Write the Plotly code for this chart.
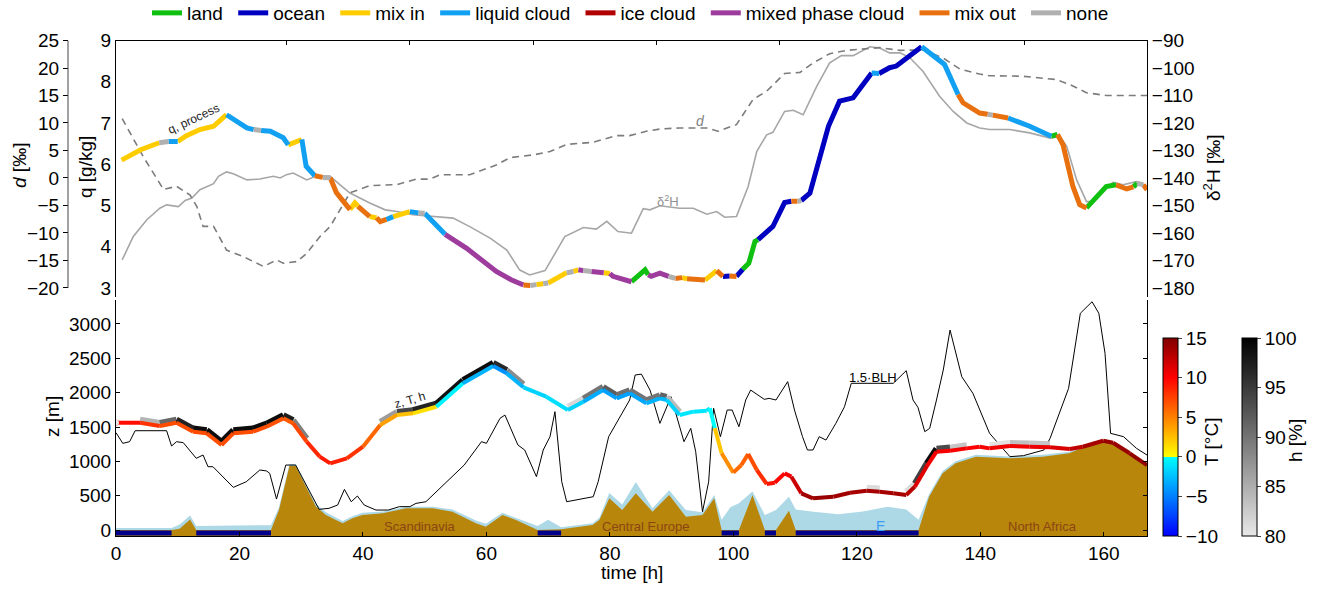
import plotly.graph_objects as go

W, H = 1322, 589

# ------------------------------------------------------------------ top panel data
t_q = [0.9, 4.0, 7.0, 8.5, 10.0, 11.4, 13.6, 15.8, 17.9, 21.2,
       22.3, 23.5, 25.0, 27.1, 27.9, 30.1, 30.8, 32.2, 33.5, 34.7,
       35.7, 37.9, 38.7, 39.2, 41.1, 42.2, 42.8, 43.8, 44.9, 47.6,
       49.0, 50.0, 52.5, 53.3, 56.8, 61.6, 64.0, 66.0, 67.1, 68.1,
       69.2, 70.0, 71.5, 73.0, 74.1, 74.9, 75.7, 77.0, 79.0, 80.0,
       80.5, 83.5, 85.7, 86.2, 86.7, 88.1, 89.5, 90.6, 91.7, 92.5,
       95.4, 97.3, 98.3, 99.4, 100.5, 101.5, 102.5, 103.5, 104.0, 106.4,
       108.3, 109.4, 110.4, 111.0, 112.4, 115.4, 117.2, 119.4, 122.4, 123.6,
       125.3, 126.4, 127.8, 130.5, 131.5, 134.2, 136.4, 137.2, 139.9, 141.2,
       142.0, 144.5, 148.0, 151.5, 152.5, 153.4, 155.0, 156.1, 157.2, 158.8,
       160.4, 162.0, 163.7, 164.8, 165.4, 166.4, 167.0]
q_val = [6.10, 6.35, 6.52, 6.55, 6.55, 6.69, 6.84, 6.92, 7.20, 6.88,
         6.84, 6.82, 6.80, 6.64, 6.47, 6.60, 5.95, 5.72, 5.68, 5.67,
         5.31, 4.90, 5.06, 4.98, 4.73, 4.70, 4.61, 4.66, 4.73, 4.85,
         4.82, 4.81, 4.45, 4.30, 3.96, 3.40, 3.20, 3.07, 3.06, 3.08,
         3.10, 3.12, 3.25, 3.37, 3.40, 3.44, 3.42, 3.40, 3.37, 3.35,
         3.28, 3.15, 3.44, 3.32, 3.28, 3.36, 3.28, 3.23, 3.25, 3.22,
         3.19, 3.42, 3.28, 3.29, 3.28, 3.45, 3.60, 4.13, 4.17, 4.49,
         5.07, 5.10, 5.10, 5.12, 5.30, 6.92, 7.53, 7.61, 8.21, 8.20,
         8.34, 8.38, 8.54, 8.85, 8.74, 8.42, 7.69, 7.49, 7.24, 7.21,
         7.19, 7.12, 6.92, 6.68, 6.72, 6.47, 5.46, 5.02, 4.94, 5.18,
         5.46, 5.50, 5.40, 5.45, 5.54, 5.50, 5.38]
# process of the segment that starts at each point
q_proc = ['mix in', 'mix in', 'none', 'liquid cloud', 'mix in', 'mix in', 'mix in', 'mix in', 'liquid cloud', 'liquid cloud',
          'none', 'liquid cloud', 'liquid cloud', 'liquid cloud', 'mix in', 'liquid cloud', 'liquid cloud', 'mix out', 'none', 'mix out',
          'mix out', 'mix in', 'mix in', 'mix out', 'mix in', 'mix out', 'mix out', 'liquid cloud', 'mix in', 'liquid cloud',
          'none', 'liquid cloud', 'liquid cloud', 'mixed phase cloud', 'mixed phase cloud', 'mixed phase cloud', 'mixed phase cloud', 'mix out', 'none', 'mix in',
          'none', 'mix in', 'mix in', 'none', 'mix in', 'mixed phase cloud', 'none', 'mixed phase cloud', 'mix in', 'mixed phase cloud',
          'mixed phase cloud', 'land', 'land', 'mixed phase cloud', 'mixed phase cloud', 'mixed phase cloud', 'none', 'mix out', 'mix in', 'mix out',
          'mix in', 'mix out', 'ocean', 'mix out', 'ocean', 'land', 'land', 'land', 'ocean', 'ocean',
          'ocean', 'mix out', 'none', 'ocean', 'ocean', 'ocean', 'ocean', 'ocean', 'liquid cloud', 'ocean',
          'ocean', 'ocean', 'ocean', 'liquid cloud', 'liquid cloud', 'liquid cloud', 'mix out', 'mix out', 'mix out', 'none',
          'mix out', 'liquid cloud', 'liquid cloud', 'land', 'mix out', 'mix out', 'mix out', 'mix out', 'land', 'land',
          'land', 'mix out', 'mix out', 'land', 'none', 'mix out', 'mix out']

t_d = [1.0, 4.4, 7.7, 9.8, 12.0, 13.1, 14.1, 15.8, 17.9, 20.6,
       23.9, 26.0, 27.1, 29.3, 30.9, 33.0, 34.7, 36.3, 37.9, 41.1,
       45.5, 48.7, 50.9, 52.5, 57.3, 61.7, 63.8, 67.6, 70.3, 73.0,
       77.3, 81.1, 83.2, 85.9, 88.1, 91.3, 95.7, 97.5, 100.5, 103.2,
       105.4, 108.3, 110.8, 112.9, 115.6, 118.3, 121.0, 123.7, 127.0, 130.7,
       134.0, 136.7, 139.9, 141.5, 146.9, 152.3, 154.5, 157.2, 160.4, 167.0]
d_val = [10.8, 3.9, -2.1, -1.5, -3.1, -5.2, -8.8, -8.8, -13.1, -14.3,
         -16.1, -14.9, -15.5, -15.2, -13.7, -10.7, -8.8, -5.8, -2.7, -1.4,
         -1.2, -0.2, -0.2, 0.6, 0.6, 2.4, 3.7, 4.2, 4.8, 6.1,
         6.5, 7.7, 7.7, 8.5, 8.9, 9.1, 9.1, 8.5, 9.7, 14.3,
         15.8, 19.0, 19.2, 20.9, 22.6, 23.2, 23.5, 23.7, 23.2, 23.3,
         21.8, 19.8, 18.9, 18.6, 18.5, 17.9, 17.0, 15.5, 15.0, 15.0]

t_h = [1.0, 2.8, 5.0, 7.1, 8.2, 10.1, 11.2, 12.3, 13.6, 15.8,
       16.6, 17.9, 19.0, 21.2, 23.3, 25.5, 26.6, 27.6, 28.7, 30.9,
       32.5, 34.7, 36.3, 37.9, 39.5, 41.1, 43.6, 45.5, 48.1, 50.9,
       54.6, 57.3, 60.6, 63.3, 65.4, 67.0, 69.5, 72.7, 75.7, 77.8,
       79.5, 81.3, 83.5, 85.4, 86.5, 88.1, 91.3, 93.5, 95.7, 97.3,
       98.6, 100.5, 102.4, 103.8, 105.4, 106.4, 108.3, 109.7, 111.3, 113.5,
       115.6, 117.5, 119.4, 122.1, 123.7, 125.3, 127.0, 128.6, 130.7, 133.4,
       135.6, 137.8, 139.9, 141.5, 144.8, 148.0, 151.3, 152.9, 154.0, 155.6,
       157.2, 158.3, 159.9, 161.5, 163.1, 165.3, 167.0]
dH_val = [-169.8, -161.3, -155.2, -151.0, -149.8, -150.4, -148.2, -147.3, -144.3, -142.1,
          -139.4, -137.8, -138.5, -140.7, -140.4, -139.4, -140.0, -138.8, -138.2, -140.7,
          -139.2, -139.4, -142.5, -145.5, -147.3, -149.1, -151.6, -152.2, -153.4, -154.0,
          -154.6, -157.7, -161.9, -166.2, -173.5, -175.3, -173.7, -161.3, -158.0, -158.6,
          -155.8, -159.5, -160.1, -151.2, -151.6, -150.1, -151.0, -151.0, -153.2, -152.2,
          -154.3, -154.0, -143.1, -130.3, -124.3, -123.4, -115.8, -115.4, -117.0, -106.7,
          -98.1, -95.5, -95.5, -92.3, -92.7, -94.5, -94.5, -96.3, -101.2, -110.3,
          -115.8, -120.0, -121.8, -122.4, -122.4, -123.6, -125.5, -124.9, -128.5, -140.7,
          -148.6, -148.6, -144.3, -141.6, -142.5, -141.3, -143.1]

top_ticks = [27.6, 47.6, 67.6, 87.6, 107.4, 127.3, 147.2]

# ------------------------------------------------------------------ bottom panel data
t_z = [0.0, 3.9, 7.1, 9.8, 12.5, 14.7, 17.1, 19.0, 22.2, 24.4,
       27.1, 28.7, 30.9, 33.0, 34.7, 37.4, 40.0, 42.8, 45.5, 48.1,
       51.9, 56.2, 61.1, 63.3, 66.0, 69.7, 73.2, 75.7, 78.9, 81.1,
       83.2, 85.9, 88.1, 89.2, 91.3, 93.5, 95.7, 96.2, 97.0, 98.1,
       100.0, 101.3, 102.4, 103.8, 105.4, 106.7, 108.3, 109.4, 111.0, 112.9,
       116.2, 118.9, 121.6, 123.7, 125.9, 128.0, 129.4, 131.3, 132.9, 135.1,
       137.8, 139.9, 141.5, 144.8, 148.0, 151.3, 154.5, 156.6, 159.9, 161.5,
       164.2, 167.0]
z_val = [1562, 1562, 1514, 1562, 1432, 1408, 1238, 1408, 1432, 1504,
         1626, 1553, 1286, 1068, 971, 1044, 1213, 1529, 1674, 1699,
         1795, 2136, 2388, 2281, 2078, 1941, 1747, 1868, 2038, 1917,
         1990, 1845, 1917, 1893, 1674, 1723, 1737, 1772, 1481, 1117,
         835, 946, 1107, 874, 670, 689, 825, 777, 534, 461,
         485, 543, 572, 558, 534, 510, 631, 922, 1140, 1155,
         1189, 1213, 1189, 1223, 1213, 1204, 1179, 1213, 1300, 1271,
         1117, 946]
T_val = [10, 9, 7, 7, 7, 7, 7, 7, 7, 7,
         6.5, 6.5, 8, 9, 9, 8.5, 7.5, 4.5, 3, 2,
         0.5, -1.5, -4.5, -4, -2, -1.5, -1, -2.5, -4, -3.5,
         -4, -3, -3, -2.5, -1, -1, -1, -1, 1, 3.5,
         5.5, 6, 6.5, 7.5, 9, 9.5, 10, 10.5, 13.5, 14,
         14, 13.5, 13.5, 13.5, 13.5, 13.5, 12, 10.5, 10, 10.5,
         10, 10, 10.5, 10.5, 10.5, 11, 12, 13, 14, 14,
         14, 14.5]
h_val = [75, 82, 87, 95, 99, 99, 99, 99, 99, 99,
         99, 96, 82, 76, 70, 70, 72, 81, 92, 96,
         98, 99, 99, 94, 82, 76, 79, 84, 96, 88,
         93, 87, 93, 90, 78, 70, 70, 70, 70, 70,
         70, 70, 70, 70, 70, 70, 70, 70, 70, 70,
         70, 75, 84, 78, 70, 72, 90, 99, 99, 88,
         78, 75, 78, 83, 84, 82, 76, 70, 70, 70,
         70, 70]

t_blh = [0.0, 1.1, 2.2, 3.1, 8.2, 9.0, 9.8, 10.9, 13.0, 14.1,
         14.9, 15.7, 19.0, 21.1, 23.3, 24.4, 24.9, 26.0, 27.5, 29.1,
         32.9, 34.5, 35.9, 37.0, 38.1, 39.1, 40.2, 42.1, 44.1, 45.9,
         47.6, 48.6, 50.2, 53.2, 56.4, 59.2, 60.0, 62.2, 63.0, 65.1,
         66.2, 68.1, 69.2, 70.3, 71.1, 72.2, 73.0, 77.3, 78.1, 79.8,
         82.2, 83.2, 84.1, 85.1, 86.5, 88.1, 89.9, 92.0, 93.1, 93.9,
         95.0, 96.0, 96.8, 97.9, 99.0, 99.8, 100.9, 102.0, 102.8, 105.0,
         105.8, 106.9, 108.8, 109.9, 111.2, 112.0, 112.9, 113.9, 115.0, 116.6,
         118.0, 119.1, 125.9, 128.0, 129.1, 129.9, 131.0, 131.8, 132.9, 134.0,
         135.1, 137.0, 138.8, 141.5, 144.8, 147.0, 150.3, 151.3, 154.3, 156.2,
         158.1, 159.2, 160.2, 161.1, 163.2, 165.3, 167.0]
blh15_val = [1417, 1262, 1286, 1446, 1446, 1223, 1286, 1272, 1044, 1092,
             922, 922, 621, 703, 874, 860, 825, 451, 946, 946,
             301, 316, 364, 592, 412, 495, 364, 291, 291, 340,
             340, 388, 412, 670, 946, 1286, 1262, 1626, 1674, 1238,
             1165, 777, 1165, 1359, 1723, 703, 412, 485, 703, 1359,
             1747, 1893, 2257, 2270, 2038, 1553, 1941, 1286, 1481, 1140,
             267, 703, 1772, 1359, 1747, 1747, 1504, 1893, 2038, 1903,
             1917, 1893, 2160, 1747, 1359, 1165, 1165, 1359, 1310, 1553,
             1795, 2136, 2136, 2320, 1893, 1786, 1432, 1481, 1893, 2330,
             2912, 2232, 1990, 1408, 1068, 1083, 1165, 1335, 2063, 3155,
             3324, 3155, 2573, 1408, 1359, 1189, 1092]

t_b = [0, 5, 9, 10.3, 12, 13, 18, 25.1, 26.4, 28.1,
       29.1, 30.8, 32.4, 34, 36.7, 38.3, 39.9, 43.2, 47, 51.3,
       54.5, 58.3, 59.9, 62.6, 64.8, 68.3, 70, 72.1, 77.2, 78.3,
       79.9, 82, 84.2, 86.9, 89.6, 92.3, 95, 96.9, 98.1, 99.5,
       100.9, 103.1, 105.1, 106.9, 109, 110.1, 113, 117, 121, 125,
       128, 130, 131.7, 133.9, 136, 139.3, 144.7, 150.1, 154.4, 157.6,
       159.8, 161.9, 165.8, 167]
topo_val = [0, 0, 0, 20, 155, 0, 0, 0, 291, 932,
            932, 631, 340, 218, 97, 170, 218, 243, 316, 316,
            267, 97, 49, 218, 146, 0, 0, 10, 73, 146,
            461, 291, 534, 267, 510, 194, 218, 461, 0, 0,
            0, 510, 0, 0, 282, 0, 0, 0, 0, 0,
            0, 0, 485, 825, 971, 1068, 1044, 1068, 1117, 1238,
            1286, 1238, 1019, 950]
blue_val = [30, 25, 30, 80, 210, 60, 60, 70, 330, 960,
            960, 670, 380, 260, 130, 200, 250, 270, 340, 340,
            300, 140, 90, 250, 180, 60, 150, 40, 100, 180,
            540, 370, 700, 316, 580, 290, 260, 510, 150, 330,
            390, 560, 220, 290, 485, 300, 267, 230, 270, 340,
            300, 150, 520, 860, 1000, 1095, 1070, 1095, 1140, 1260,
            1305, 1260, 1040, 970]
ocean_start = [0, 13.0, 68.3, 98.1, 105.1, 110.1]
ocean_end = [9.0, 25.1, 72.1, 100.9, 106.9, 130.0]

region_names = ['Scandinavia', 'Central Europe', 'North Africa']
region_t = [49.2, 85.7, 150.1]

# ------------------------------------------------------------------ styling
FONT = 'Liberation Sans, Arial, sans-serif'
FS = 19
CATS = ['land', 'ocean', 'mix in', 'liquid cloud', 'ice cloud',
        'mixed phase cloud', 'mix out', 'none']
CAT_COLORS = {'land': '#10c010', 'ocean': '#0000c0', 'mix in': '#ffcc00',
              'liquid cloud': '#12a0f2', 'ice cloud': '#b00000',
              'mixed phase cloud': '#9e3c9e', 'mix out': '#e8700e', 'none': '#b0b0b0'}
T_MIN, T_MAX = -10, 15
H_MIN, H_MAX = 80, 100
T_SCALE = [[0.0, '#0000ff'], [0.2, '#0080ff'], [0.4, '#00ffff'], [0.4, '#ffff00'],
           [0.6, '#ff8000'], [0.8, '#ff0000'], [1.0, '#800000']]
H_SCALE = [[0.0, '#e8e8e8'], [1.0, '#000000']]
Z_MIN, Z_MAX = -87, 3349
H_OFFSET = 45


def px_x(px):
    return px / W


def px_y(py):
    return 1 - py / H


def hex2rgb(h):
    h = h.lstrip('#')
    return tuple(int(h[i:i + 2], 16) for i in (0, 2, 4))


def scale_color(scale, f):
    f = min(max(f, 0.0), 1.0)
    for i in range(len(scale) - 1):
        p0, c0 = scale[i]
        p1, c1 = scale[i + 1]
        if p0 <= f <= p1 and p1 > p0:
            a = (f - p0) / (p1 - p0)
            r0, g0, b0 = hex2rgb(c0)
            r1, g1, b1 = hex2rgb(c1)
            return 'rgb(%d,%d,%d)' % (round(r0 + a * (r1 - r0)), round(g0 + a * (g1 - g0)),
                                      round(b0 + a * (b1 - b0)))
    return scale[-1][1]


XDOM = [px_x(116), px_x(1147)]
TOP_DOM = [px_y(297), px_y(40.5)]
BOT_DOM = [px_y(536), px_y(300)]

fig = go.Figure()

# ---- top panel: d2H (y2), d (y3), q (y4)
fig.add_trace(go.Scatter(x=t_h, y=dH_val, mode='lines', xaxis='x2', yaxis='y2',
                         line=dict(color='#a6a6a6', width=1.6), showlegend=False, hoverinfo='skip'))
fig.add_trace(go.Scatter(x=t_d, y=d_val, mode='lines', xaxis='x2', yaxis='y3',
                         line=dict(color='#7c7c7c', width=1.6, dash='7px,5px'), showlegend=False,
                         hoverinfo='skip'))
for cat in CATS:
    xs, ys = [], []
    for i in range(len(t_q) - 1):
        if q_proc[i] != cat:
            continue
        if xs and xs[-1] == t_q[i]:
            xs.append(t_q[i + 1]); ys.append(q_val[i + 1])
        else:
            if xs:
                xs.append(None); ys.append(None)
            xs += [t_q[i], t_q[i + 1]]
            ys += [q_val[i], q_val[i + 1]]
    if not xs:
        xs, ys = [None], [None]
    fig.add_trace(go.Scatter(x=xs, y=ys, mode='lines', xaxis='x2', yaxis='y4',
                             name=cat + '\u00a0',
                             line=dict(color=CAT_COLORS[cat], width=5), showlegend=True,
                             hoverinfo='skip'))

# ---- bottom panel
fig.add_trace(go.Scatter(x=t_b, y=[Z_MIN] * len(t_b), mode='lines', line=dict(width=0),
                         showlegend=False, hoverinfo='skip'))
fig.add_trace(go.Scatter(x=t_b, y=blue_val, mode='lines', line=dict(width=0), fill='tonexty',
                         fillcolor='#add8e6', showlegend=False, hoverinfo='skip'))
fig.add_trace(go.Scatter(x=t_b, y=[Z_MIN] * len(t_b), mode='lines', line=dict(width=0),
                         showlegend=False, hoverinfo='skip'))
fig.add_trace(go.Scatter(x=t_b, y=topo_val, mode='lines', line=dict(width=0), fill='tonexty',
                         fillcolor='#b8860b', showlegend=False, hoverinfo='skip'))
ox, oy = [], []
for s, e in zip(ocean_start, ocean_end):
    ox += [s, e, None]
    oy += [Z_MIN / 2, Z_MIN / 2, None]
fig.add_trace(go.Scatter(x=ox, y=oy, mode='lines', line=dict(color='#00008b', width=5),
                         showlegend=False, hoverinfo='skip'))
fig.add_trace(go.Scatter(x=t_blh, y=blh15_val, mode='lines', line=dict(color='black', width=1),
                         showlegend=False, hoverinfo='skip'))
# h band
for i in range(len(t_z) - 1):
    hm = 0.5 * (h_val[i] + h_val[i + 1])
    if hm < H_MIN:
        continue
    col = scale_color(H_SCALE, (hm - H_MIN) / (H_MAX - H_MIN))
    fig.add_trace(go.Scatter(x=[t_z[i], t_z[i + 1]], y=[z_val[i] + H_OFFSET, z_val[i + 1] + H_OFFSET],
                             mode='lines', line=dict(color=col, width=6), showlegend=False,
                             hoverinfo='skip'))
# z line coloured by T
for i in range(len(t_z) - 1):
    tm = 0.5 * (T_val[i] + T_val[i + 1])
    col = scale_color(T_SCALE, (tm - T_MIN) / (T_MAX - T_MIN))
    fig.add_trace(go.Scatter(x=[t_z[i], t_z[i + 1]], y=[z_val[i], z_val[i + 1]], mode='lines',
                             line=dict(color=col, width=4), showlegend=False, hoverinfo='skip'))
# colorbar carriers
fig.add_trace(go.Scatter(x=[t_z[0]], y=[z_val[0]], mode='markers', showlegend=False, hoverinfo='skip',
                         marker=dict(size=0, color=[T_val[0]], coloraxis='coloraxis')))
fig.add_trace(go.Scatter(x=[t_z[0]], y=[z_val[0]], mode='markers', showlegend=False, hoverinfo='skip',
                         marker=dict(size=0, color=[h_val[0]], coloraxis='coloraxis2')))

axis_common = dict(showgrid=False, zeroline=False, linecolor='black', linewidth=1,
                   tickfont=dict(family=FONT, size=FS, color='black'), automargin=False,
                   tickcolor='black')

fig.update_layout(
    width=W, height=H, margin=dict(l=0, r=0, t=0, b=0, autoexpand=False),
    paper_bgcolor='white', plot_bgcolor='rgba(0,0,0,0)',
    font=dict(family=FONT, size=FS, color='black'),
    hovermode=False,
    xaxis=dict(domain=XDOM, anchor='y', range=[0, 167], showline=True, ticks='inside', ticklen=4,
               tickvals=[0, 20, 40, 60, 80, 100, 120, 140, 160], **axis_common),
    yaxis=dict(domain=BOT_DOM, anchor='x', range=[Z_MIN, Z_MAX], showline=True, ticks='inside',
               ticklen=4, mirror='ticks', tickvals=[0, 500, 1000, 1500, 2000, 2500, 3000], **axis_common),
    xaxis2=dict(domain=XDOM, anchor='y2', range=[0, 167], side='top', showline=True, ticks='inside',
                ticklen=4, tickvals=top_ticks, showticklabels=False, **axis_common),
    yaxis2=dict(domain=TOP_DOM, anchor='x2', side='right', range=[-183.3, -90], showline=True,
                ticks='', tickvals=list(range(-180, -89, 10)), **axis_common),
    yaxis3=dict(overlaying='y2', anchor='free', position=px_x(68), side='left',
                range=[-21.64, 25], showline=False, ticks='outside', ticklen=5,
                tickvals=list(range(-20, 26, 5)), **axis_common),
    yaxis4=dict(overlaying='y2', anchor='x2', side='left', range=[2.78, 9], showline=True, ticks='',
                tickvals=[3, 4, 5, 6, 7, 8, 9], **axis_common),
    coloraxis=dict(cmin=T_MIN, cmax=T_MAX, colorscale=T_SCALE,
                   colorbar=dict(x=px_x(1163), xanchor='left', y=px_y(536), yanchor='bottom',
                                 len=198 / H, lenmode='fraction', thickness=15, thicknessmode='pixels',
                                 outlinewidth=1, outlinecolor='black', ticks='outside', ticklen=4,
                                 tickvals=[-10, -5, 0, 5, 10, 15], xpad=0, ypad=0,
                                 tickfont=dict(family=FONT, size=FS, color='black'))),
    coloraxis2=dict(cmin=H_MIN, cmax=H_MAX, colorscale=H_SCALE,
                    colorbar=dict(x=px_x(1242), xanchor='left', y=px_y(536), yanchor='bottom',
                                  len=198 / H, lenmode='fraction', thickness=15, thicknessmode='pixels',
                                  outlinewidth=1, outlinecolor='black', ticks='outside', ticklen=4,
                                  tickvals=[80, 85, 90, 95, 100], xpad=0, ypad=0,
                                  tickfont=dict(family=FONT, size=FS, color='black'))),
    legend=dict(orientation='h', x=px_x(633), xanchor='center', y=px_y(13), yanchor='middle',
                font=dict(family=FONT, size=FS, color='black'), bgcolor='rgba(0,0,0,0)',
                traceorder='normal', itemwidth=30),
)

# d axis line only over its labelled range
fig.add_shape(type='line', xref='paper', yref='y3', x0=px_x(68), x1=px_x(68), y0=-20, y1=25,
              line=dict(color='#444444', width=1))

ann = []
def add_ann(text, x, y, xref='paper', yref='paper', angle=0, size=FS, color='black'):
    ann.append(dict(text=text, x=x, y=y, xref=xref, yref=yref, textangle=angle, showarrow=False,
                    xanchor='center', yanchor='middle',
                    font=dict(family=FONT, size=size, color=color)))

add_ann('<i>d</i> [‰]', px_x(19), px_y(166), angle=-90)
add_ann('q [g/kg]', px_x(85), px_y(167), angle=-90)
add_ann('δ<sup>2</sup>H [‰]', px_x(1212), px_y(168), angle=-90)
add_ann('z [m]', px_x(52), px_y(417), angle=-90)
add_ann('time [h]', px_x(632), px_y(572))
add_ann('T [°C]', px_x(1211), px_y(442), angle=-90)
add_ann('h [%]', px_x(1295), px_y(441), angle=-90)
add_ann('q, process', 12.5, 7.1, xref='x2', yref='y4', angle=-25, size=12, color='#222222')
add_ann('<i>d</i>', 94.6, 10.4, xref='x2', yref='y3', size=14, color='#808080')
add_ann('δ<sup>2</sup>H', 89.4, -148.3, xref='x2', yref='y2', size=13, color='#909090')
add_ann('z, T, h', 47.6, 1890, xref='x', yref='y', angle=-16, size=12, color='#222222')
add_ann('1.5·BLH', 122.6, 2228, xref='x', yref='y', size=13, color='black')
for name, tt in zip(region_names, region_t):
    add_ann(name, tt, 45, xref='x', yref='y', size=13, color='#8b4513')
add_ann('E', 123.9, 60, xref='x', yref='y', size=14, color='#3d9df5')
fig.update_layout(annotations=ann)

fig.write_html('out.html', config={'displayModeBar': False},
               post_script="document.body.style.margin='0';")
